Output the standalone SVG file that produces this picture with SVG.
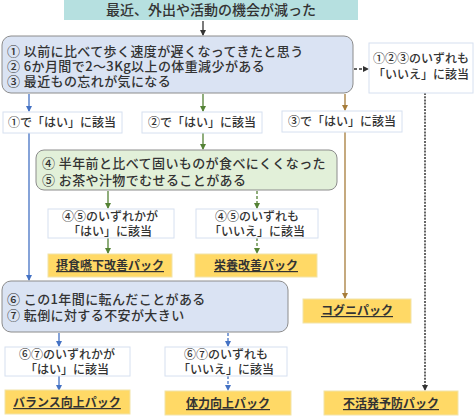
<svg xmlns="http://www.w3.org/2000/svg" width="475" height="417" viewBox="0 0 475 417">
<style>
text{font-family:"Noto Sans CJK JP","Noto Sans CJK SC",sans-serif;fill:#333;}
.t13{font-size:13px;font-weight:500;letter-spacing:0.4px;}
.t12{font-size:12px;font-weight:500;}
.c{text-anchor:middle;}
.lbl{fill:#fff;stroke:#d6e0f0;stroke-width:1;}
.pack{fill:#ffd966;stroke:#f2e3a8;stroke-width:1;}
.pk{font-size:12px;font-weight:700;text-decoration:underline;text-anchor:middle;}
.q{stroke:#8c8c8c;stroke-width:1;}
.ln{fill:none;stroke-width:1.3;}
.blue{stroke:#4472c4;}
.green{stroke:#548235;}
.brown{stroke:#a67c3a;}
.blk{stroke:#333;}
.dash{stroke-dasharray:3,2;}
.dot{stroke-dasharray:2,1.2;stroke-width:1.5;}
</style>
<defs>
<marker id="ab" markerWidth="6" markerHeight="6" refX="5" refY="3" orient="auto" markerUnits="userSpaceOnUse"><path d="M0,0 L6,3 L0,6 z" fill="#4472c4"/></marker>
<marker id="ag" markerWidth="6" markerHeight="6" refX="5" refY="3" orient="auto" markerUnits="userSpaceOnUse"><path d="M0,0 L6,3 L0,6 z" fill="#548235"/></marker>
<marker id="ar" markerWidth="6" markerHeight="6" refX="5" refY="3" orient="auto" markerUnits="userSpaceOnUse"><path d="M0,0 L6,3 L0,6 z" fill="#a67c3a"/></marker>
<marker id="ak" markerWidth="6" markerHeight="6" refX="5" refY="3" orient="auto" markerUnits="userSpaceOnUse"><path d="M0,0 L6,3 L0,6 z" fill="#333"/></marker>
</defs>

<g id="connectors">
<line class="ln blk" x1="203" y1="21" x2="203" y2="35" marker-end="url(#ak)"/>
<line class="ln blk dash" x1="354" y1="69" x2="368" y2="69" marker-end="url(#ak)"/>
<line class="ln blk dot" x1="425" y1="93" x2="425" y2="390" marker-end="url(#ak)"/>
<line class="ln blue" x1="29" y1="94" x2="29" y2="111" marker-end="url(#ab)"/>
<line class="ln blue" x1="29" y1="133" x2="29" y2="280" marker-end="url(#ab)"/>
<line class="ln green" x1="203" y1="94" x2="203" y2="111" marker-end="url(#ag)"/>
<line class="ln green" x1="203" y1="133" x2="203" y2="149" marker-end="url(#ag)"/>
<line class="ln brown" x1="345" y1="94" x2="345" y2="110" marker-end="url(#ar)"/>
<line class="ln brown" x1="345" y1="132" x2="345" y2="298" marker-end="url(#ar)"/>
<line class="ln green" x1="108" y1="191" x2="108" y2="208" marker-end="url(#ag)"/>
<line class="ln green dash" x1="257" y1="191" x2="257" y2="208" marker-end="url(#ag)"/>
<line class="ln green" x1="108" y1="238" x2="108" y2="253" marker-end="url(#ag)"/>
<line class="ln green dash" x1="257" y1="238" x2="257" y2="253" marker-end="url(#ag)"/>
<line class="ln blue" x1="59" y1="333" x2="59" y2="346" marker-end="url(#ab)"/>
<line class="ln blue dash" x1="228" y1="333" x2="228" y2="346" marker-end="url(#ab)"/>
<line class="ln blue" x1="59" y1="376" x2="59" y2="390" marker-end="url(#ab)"/>
<line class="ln blue dash" x1="228" y1="376" x2="228" y2="390" marker-end="url(#ab)"/>
</g>

<g id="start">
<rect x="64" y="0" width="294" height="20" fill="#b6e0e0"/>
<text class="c" x="211" y="15" style="font-size:14px;font-weight:500">最近、外出や活動の機会が減った</text>
</g>

<g id="q123">
<rect class="q" x="2" y="36" width="351" height="57" rx="9" fill="#dae3f3"/>
<text class="t13" x="7" y="56">① 以前に比べて歩く速度が遅くなってきたと思う</text>
<text class="t13" x="7" y="71">② 6か月間で2～3Kg以上の体重減少がある</text>
<text class="t13" x="7" y="86">③ 最近もの忘れが気になる</text>
</g>

<g id="none123">
<rect class="lbl" x="369" y="43" width="104" height="50"/>
<text class="t12 c" x="421" y="63">①②③のいずれも</text>
<text class="t12 c" x="421" y="79">「いいえ」に該当</text>
</g>

<g id="yes1">
<rect class="lbl" x="3" y="112" width="119" height="21"/>
<text class="t12 c" x="62" y="127">①で「はい」に該当</text>
</g>
<g id="yes2">
<rect class="lbl" x="142" y="112" width="120" height="21"/>
<text class="t12 c" x="202" y="127">②で「はい」に該当</text>
</g>
<g id="yes3">
<rect class="lbl" x="282" y="111" width="120" height="21"/>
<text class="t12 c" x="342" y="126">③で「はい」に該当</text>
</g>

<g id="q45">
<rect class="q" x="36" y="150" width="301" height="40" rx="8" fill="#e2f0d9"/>
<text class="t13" x="42" y="168">④ 半年前と比べて固いものが食べにくくなった</text>
<text class="t13" x="42" y="185">⑤ お茶や汁物でむせることがある</text>
</g>

<g id="yes45">
<rect class="lbl" x="48" y="209" width="126" height="29"/>
<text class="t12 c" x="110" y="221">④⑤のいずれかが</text>
<text class="t12 c" x="110" y="236">「はい」に該当</text>
</g>
<g id="no45">
<rect class="lbl" x="196" y="209" width="122" height="29"/>
<text class="t12 c" x="257" y="221">④⑤のいずれも</text>
<text class="t12 c" x="257" y="236">「いいえ」に該当</text>
</g>

<g id="pack-swallow">
<rect class="pack" x="48" y="254" width="124" height="23"/>
<text class="pk" x="110" y="270">摂食嚥下改善パック</text>
</g>
<g id="pack-nutrition">
<rect class="pack" x="195" y="254" width="122" height="23"/>
<text class="pk" x="256" y="270">栄養改善パック</text>
</g>
<g id="pack-cogni">
<rect class="pack" x="303" y="299" width="108" height="24"/>
<text class="pk" x="357" y="315">コグニパック</text>
</g>

<g id="q67">
<rect class="q" x="2" y="281" width="286" height="51" rx="9" fill="#dae3f3"/>
<text class="t13" x="7" y="304">⑥ この1年間に転んだことがある</text>
<text class="t13" x="7" y="320">⑦ 転倒に対する不安が大きい</text>
</g>

<g id="yes67">
<rect class="lbl" x="5" y="347" width="125" height="29"/>
<text class="t12 c" x="67" y="359">⑥⑦のいずれかが</text>
<text class="t12 c" x="67" y="374">「はい」に該当</text>
</g>
<g id="no67">
<rect class="lbl" x="165" y="347" width="122" height="29"/>
<text class="t12 c" x="226" y="359">⑥⑦のいずれも</text>
<text class="t12 c" x="226" y="374">「いいえ」に該当</text>
</g>

<g id="pack-balance">
<rect class="pack" x="5" y="390" width="125" height="24"/>
<text class="pk" x="67" y="407">バランス向上パック</text>
</g>
<g id="pack-strength">
<rect class="pack" x="165" y="391" width="126" height="24"/>
<text class="pk" x="228" y="408">体力向上パック</text>
</g>
<g id="pack-inactive">
<rect class="pack" x="324" y="391" width="134" height="24"/>
<text class="pk" x="391" y="408">不活発予防パック</text>
</g>
</svg>
